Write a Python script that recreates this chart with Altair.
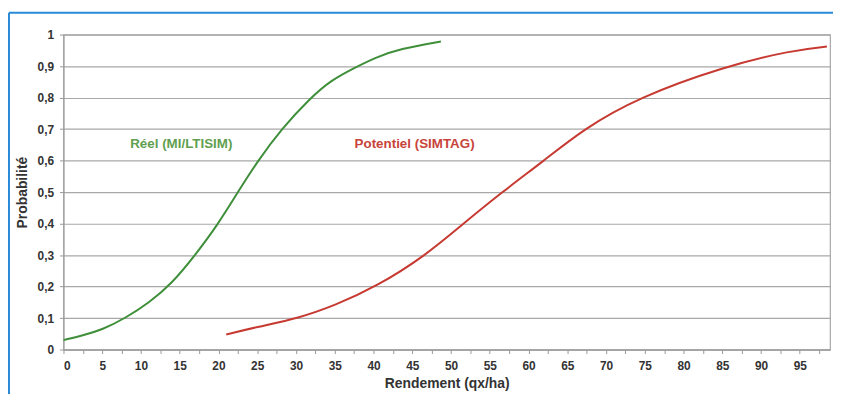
import altair as alt
import pandas as pd

# Réel (MI/LTISIM)
reel_x = [0, 2.5, 5, 8, 11, 14, 17, 20, 22.5, 25.1, 28.1, 31.9, 34.5, 37.6, 40.2, 43.4, 48.7]
reel_y = [0.03, 0.045, 0.063, 0.10, 0.148, 0.21, 0.30, 0.40, 0.50, 0.60, 0.70, 0.80, 0.855, 0.895, 0.927, 0.955, 0.978]

# Potentiel (SIMTAG)
pot_x = [21, 25, 30.4, 35, 40.4, 46.8, 51.6, 56.6, 62, 67.1, 74.1, 85.4, 94, 98.5]
pot_y = [0.048, 0.072, 0.10, 0.14, 0.20, 0.30, 0.40, 0.50, 0.60, 0.70, 0.80, 0.90, 0.95, 0.962]

labels_text = ["Réel (MI/LTISIM)", "Potentiel (SIMTAG)"]
labels_x = [15.2, 45.3]
labels_y = [0.654, 0.654]

GREEN = "#3f8f3a"
RED = "#c63a32"

df = pd.concat([
    pd.DataFrame({"x": reel_x, "y": reel_y, "s": "Réel"}),
    pd.DataFrame({"x": pot_x, "y": pot_y, "s": "Potentiel"}),
])
lab = pd.DataFrame({"x": labels_x, "y": labels_y, "t": labels_text, "s": ["Réel", "Potentiel"]})

xticks = [i * 2.5 for i in range(40)]
yticks = [i / 10 for i in range(11)]

xs = alt.Scale(domain=[0, 98.9], nice=False, zero=False)
ys = alt.Scale(domain=[0, 1], nice=False)

xaxis = alt.Axis(values=xticks, grid=False,
                 labelExpr="datum.value % 5 == 0 ? datum.label : ''",
                 tickSize=4, tickColor="#999", domainColor="#999",
                 labelFont="Liberation Sans", labelFontWeight="bold", labelFontSize=12,
                 labelColor="#333", labelPadding=7,
                 titleFont="Liberation Sans", titleFontWeight="bold", titleFontSize=14,
                 titleColor="#333", titlePadding=5)
yaxis = alt.Axis(values=yticks,
                 labelExpr="replace(format(datum.value, '~g'), '.', ',')",
                 gridColor="#a8a8a8", gridWidth=1.2,
                 tickSize=4, tickColor="#999", domainColor="#999",
                 labelFont="Liberation Sans", labelFontWeight="bold", labelFontSize=12,
                 labelColor="#333", labelPadding=6,
                 titleFont="Liberation Sans", titleFontWeight="bold", titleFontSize=14,
                 titleColor="#333", titlePadding=8)

lines = alt.Chart(df).mark_line(strokeWidth=2, interpolate="basis").encode(
    x=alt.X("x:Q", scale=xs, title="Rendement (qx/ha)", axis=xaxis),
    y=alt.Y("y:Q", scale=ys, title="Probabilité", axis=yaxis),
    color=alt.Color("s:N", scale=alt.Scale(domain=["Réel", "Potentiel"], range=[GREEN, RED]), legend=None),
    detail="s:N",
)

texts = alt.Chart(lab).mark_text(font="Liberation Sans", fontWeight="bold", fontSize=13.5).encode(
    x=alt.X("x:Q", scale=xs, title="Rendement (qx/ha)", axis=xaxis),
    y=alt.Y("y:Q", scale=ys, title="Probabilité", axis=yaxis),
    text="t:N",
    color=alt.Color("s:N", scale=alt.Scale(domain=["Réel", "Potentiel"], range=["#5fa050", "#c8443a"]), legend=None),
)

frame_top = alt.Chart(pd.DataFrame({"a": [0]})).mark_rule(color="#2a8ad8", strokeWidth=2).encode(
    x=alt.value(-55), x2=alt.value(800), y=alt.value(-22)
)
frame_left = alt.Chart(pd.DataFrame({"a": [0]})).mark_rule(color="#2a8ad8", strokeWidth=2).encode(
    x=alt.value(-55), y=alt.value(-22), y2=alt.value(400)
)

chart = alt.layer(frame_top, frame_left, lines, texts).resolve_scale(color="independent").properties(
    width=774, height=318,
    padding={"left": 56, "top": 25, "right": 3, "bottom": 43},
    autosize=alt.AutoSizeParams(type="none"),
).configure_view(stroke="#a8a8a8", strokeWidth=1.2)

chart.save("out.html", embed_options={"renderer": "svg", "actions": False})
